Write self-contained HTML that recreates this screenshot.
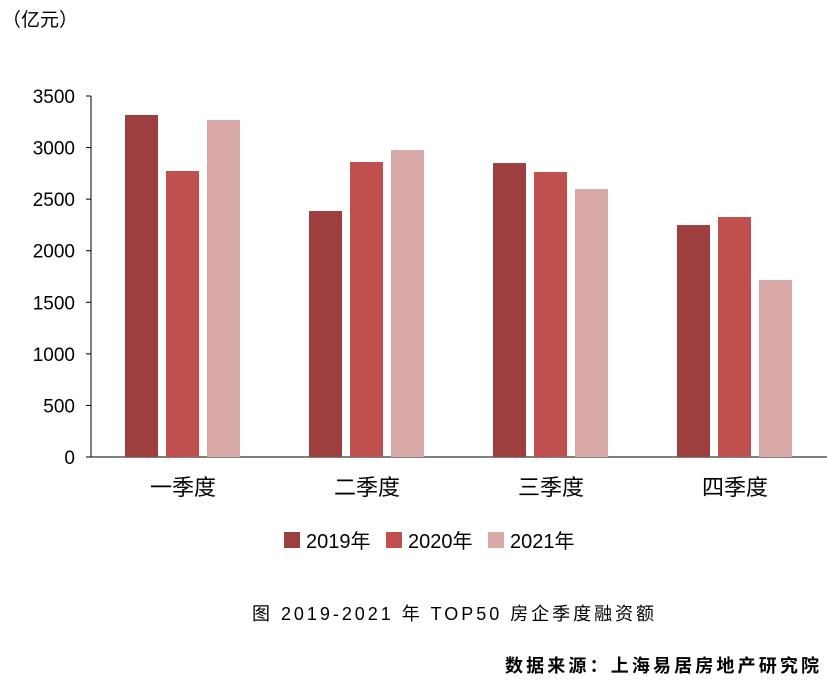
<!DOCTYPE html>
<html><head><meta charset="utf-8"><style>
body{margin:0;background:#fff;width:827px;height:685px;overflow:hidden}
svg text{font-family:"Liberation Sans","Noto Sans CJK SC",sans-serif}
</style></head><body>
<svg id="chart" width="827" height="685">
<text x="2" y="26" font-size="19" fill="#000">（亿元）</text>
<g id="axes"></g><g id="bars"></g>
<g>
<rect x="284" y="532" width="16" height="16" fill="#9e3f3f"/>
<text x="306" y="548" font-size="20">2019年</text>
<rect x="386" y="532" width="16" height="16" fill="#c0504d"/>
<text x="408" y="548" font-size="20">2020年</text>
<rect x="488" y="532" width="16" height="16" fill="#d9a9a8"/>
<text x="510" y="548" font-size="20">2021年</text>
</g>
<text x="252" y="620" font-size="18" textLength="402" lengthAdjust="spacing">图  2019-2021 年 TOP50 房企季度融资额</text>
<text x="505" y="672" font-size="18" font-weight="bold" textLength="314" lengthAdjust="spacing">数据来源：上海易居房地产研究院</text>
</svg>
<script>
const categories=["一季度","二季度","三季度","四季度"];
const s2019=[3316,2385,2850,2249];
const s2020=[2773,2860,2763,2327];
const s2021=[3267,2976,2598,1716];
const yTicks=[0,500,1000,1500,2000,2500,3000,3500];
const seriesNames=["2019","2020","2021"];
const ns="http://www.w3.org/2000/svg";
const x0=91,x1=827,yB=457,yT=96,yMax=3500;
const y=v=>yB-(v/yMax)*(yB-yT);
const catW=(x1-x0)/categories.length;
const axes=document.getElementById('axes'),bars=document.getElementById('bars');
function mk(tag,attrs,parent){const e=document.createElementNS(ns,tag);for(const k in attrs)e.setAttribute(k,attrs[k]);parent.appendChild(e);return e;}
let a=mk('line',{x1:x0,y1:yT,x2:x0,y2:yB,stroke:'#000','stroke-width':1},axes);


a=mk('line',{x1:x0,y1:yB,x2:x1,y2:yB,stroke:'#000','stroke-width':1},axes);


yTicks.forEach(t=>{
 const l=mk('line',{x1:x0-5,y1:y(t),x2:x0,y2:y(t),stroke:'#000'},axes);
 
 
 const tx=mk('text',{x:75,y:y(t)+7,'font-size':19,'text-anchor':'end'},axes);
 tx.textContent=t;
 
 
});
const series=[s2019,s2020,s2021],colors=["#9e3f3f","#c0504d","#d9a9a8"];
categories.forEach((c,i)=>{
 const cx=x0+catW*(i+0.5);
 const tx=mk('text',{x:cx,y:495,'font-size':22,'text-anchor':'middle'},axes);
 tx.textContent=c;
 
 
 series.forEach((s,j)=>{
  const bx=cx-58+j*41;
  const r=mk('rect',{x:bx,y:y(s[i]),width:33,height:yB-y(s[i]),fill:colors[j]},bars);
  
  
 });
});
</script>
</body></html>
